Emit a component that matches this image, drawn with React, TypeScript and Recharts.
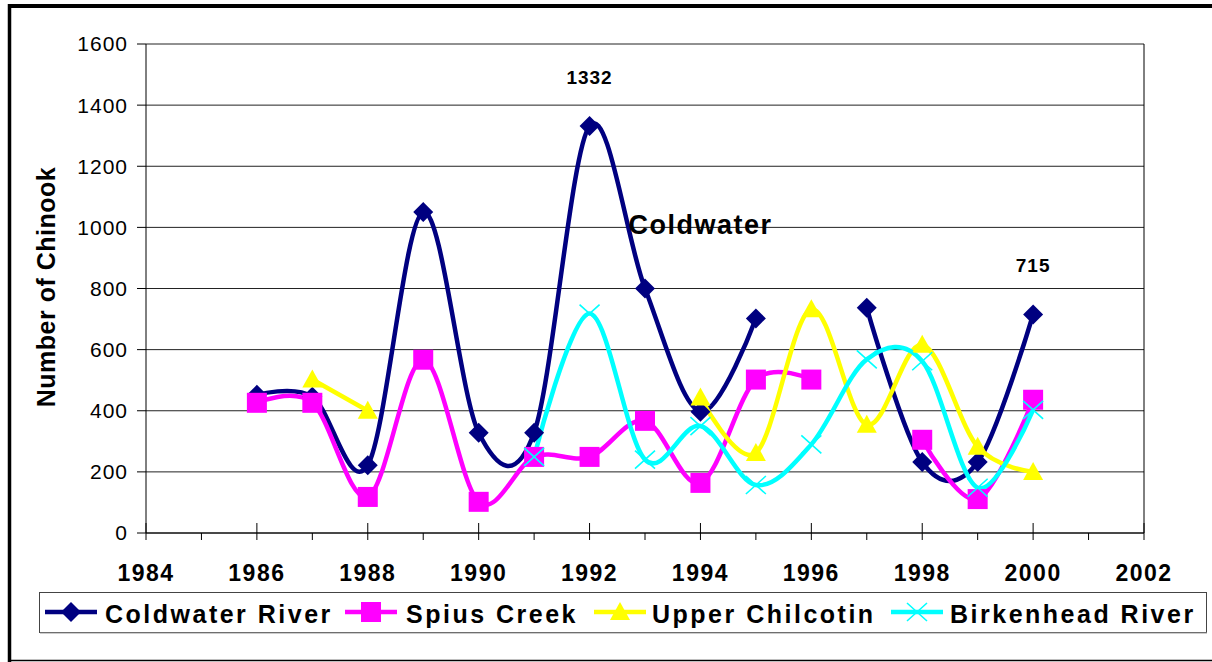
import React from 'react';
import {
  LineChart,
  Line,
  XAxis,
  YAxis,
  CartesianGrid,
  ReferenceLine,
  ReferenceDot,
  LabelList,
} from 'recharts';

// ---------- data ----------
const years = [1986, 1987, 1988, 1989, 1990, 1991, 1992, 1993, 1994, 1995, 1996, 1997, 1998, 1999, 2000];
const coldwater = [452, 446, 222, 1050, 328, 328, 1332, 800, 397, 702, null, 737, 232, 232, 715];
const spius = [426, 426, 118, 567, 102, 249, 249, 367, 164, 502, 502, null, 305, 111, 436];
const chilcotin = [null, 502, 400, null, null, null, null, null, 443, 262, 732, 354, 616, 282, 200];
const birkenhead = [null, null, null, null, null, 249, 718, 240, 350, 157, 290, 568, 562, 148, 403];

const seriesNames = ['Coldwater River', 'Spius Creek', 'Upper Chilcotin', 'Birkenhead River'];
const xTicks = [1984, 1985, 1986, 1987, 1988, 1989, 1990, 1991, 1992, 1993, 1994, 1995, 1996, 1997, 1998, 1999, 2000, 2001, 2002];
const yTicks = [0, 200, 400, 600, 800, 1000, 1200, 1400, 1600];
const labeledYears = [1992, 2000];
const annotationText = 'Coldwater';
const annotationPoint = { x: 1994, y: 977 };
const yTitle = 'Number of Chinook';

const data = years.map((year, i) => ({
  year,
  coldwater: coldwater[i],
  spius: spius[i],
  chilcotin: chilcotin[i],
  birkenhead: birkenhead[i],
}));

// ---------- styles ----------
const FONT = '"Liberation Sans", Arial, Helvetica, sans-serif';
const NAVY = '#000080';
const MAGENTA = '#FF00FF';
const YELLOW = '#FFFF00';
const CYAN = '#00FFFF';

// Excel-like smoothing: cardinal spline, tension 0 (control = P1 + (P2-P0)/6)
class CardinalCurve {
  _context: any;
  _k = 1 / 6;
  _line: number = NaN;
  _point = 0;
  _x0 = NaN; _x1 = NaN; _x2 = NaN; _y0 = NaN; _y1 = NaN; _y2 = NaN;
  constructor(context: any) {
    this._context = context;
  }
  areaStart() { this._line = 0; }
  areaEnd() { this._line = NaN; }
  lineStart() {
    this._x0 = this._x1 = this._x2 = this._y0 = this._y1 = this._y2 = NaN;
    this._point = 0;
  }
  lineEnd() {
    switch (this._point) {
      case 2: this._context.lineTo(this._x2, this._y2); break;
      case 3: this._bez(this._x1, this._y1); break;
    }
    if (this._line || (this._line !== 0 && this._point === 1)) this._context.closePath();
    this._line = 1 - this._line;
  }
  _bez(x: number, y: number) {
    this._context.bezierCurveTo(
      this._x1 + this._k * (this._x2 - this._x0),
      this._y1 + this._k * (this._y2 - this._y0),
      this._x2 + this._k * (this._x1 - x),
      this._y2 + this._k * (this._y1 - y),
      this._x2,
      this._y2
    );
  }
  point(x: number, y: number) {
    x = +x; y = +y;
    switch (this._point) {
      case 0:
        this._point = 1;
        if (this._line) this._context.lineTo(x, y); else this._context.moveTo(x, y);
        break;
      case 1:
        this._point = 2; this._x1 = x; this._y1 = y;
        break;
      case 2:
        this._point = 3;
        this._bez(x, y);
        break;
      default:
        this._bez(x, y);
        break;
    }
    this._x0 = this._x1; this._x1 = this._x2; this._x2 = x;
    this._y0 = this._y1; this._y1 = this._y2; this._y2 = y;
  }
}
const smoothCurve: any = (context: any) => new CardinalCurve(context);

// ---------- markers ----------
const diamond = (cx: number, cy: number, c: string) => (
  <path d={`M${cx},${cy - 10}L${cx + 10},${cy}L${cx},${cy + 10}L${cx - 10},${cy}Z`} fill={c} />
);
const square = (cx: number, cy: number, c: string) => (
  <rect x={cx - 10} y={cy - 10} width={20} height={20} fill={c} />
);
const triangle = (cx: number, cy: number, c: string) => (
  <path d={`M${cx},${cy - 10}L${cx + 10},${cy + 8}L${cx - 10},${cy + 8}Z`} fill={c} />
);
const cross = (cx: number, cy: number, c: string) => (
  <path
    d={`M${cx - 10},${cy - 9}L${cx + 10},${cy + 9}M${cx + 10},${cy - 9}L${cx - 10},${cy + 9}`}
    stroke={c}
    strokeWidth={1.6}
    fill="none"
  />
);

const makeDot = (shape: any, color: string) => (props: any) => {
  const { cx, cy, index } = props;
  if (cx == null || cy == null || Number.isNaN(cy)) return <g key={`dot-${index}`} />;
  return <g key={`dot-${index}`}>{shape(cx, cy, color)}</g>;
};

const seriesStyle = [
  { key: 'coldwater', color: NAVY, shape: diamond },
  { key: 'spius', color: MAGENTA, shape: square },
  { key: 'chilcotin', color: YELLOW, shape: triangle },
  { key: 'birkenhead', color: CYAN, shape: cross },
];

// ---------- axis ticks ----------
const XTick = (props: any) => {
  const { x, y, payload } = props;
  const v = payload.value;
  const major = v % 2 === 0;
  return (
    <g>
      <line x1={x} x2={x} y1={major ? y - 10 : y} y2={y + 7} stroke="#000" strokeWidth={1} />
      {major && (
        <text
          x={x}
          y={y + 48}
          textAnchor="middle"
          fontFamily={FONT}
          fontWeight="bold"
          fontSize={23}
          letterSpacing={1.5}
          fill="#000"
        >
          {v}
        </text>
      )}
    </g>
  );
};

const peakLabel = (props: any) => {
  const { x, y, index, value } = props;
  if (!labeledYears.includes(years[index]) || value == null) return null;
  return (
    <text
      key={`lbl-${index}`}
      x={x}
      y={y - 42}
      textAnchor="middle"
      fontFamily={FONT}
      fontWeight="bold"
      fontSize={19}
      letterSpacing={1}
      fill="#000"
    >
      {value}
    </text>
  );
};

const annotationLabel = (props: any) => {
  const vb = props.viewBox || {};
  const cx = (vb.x || 0) + (vb.width || 0) / 2;
  const cy = (vb.y || 0) + (vb.height || 0) / 2;
  return (
    <text
      x={cx}
      y={cy}
      textAnchor="middle"
      fontFamily={FONT}
      fontWeight="bold"
      fontSize={27}
      letterSpacing={1.5}
      fill="#000"
    >
      {annotationText}
    </text>
  );
};

// legend layout (pixel positions of each entry's icon start and text start)
const legendLayout = [
  { icon: 45, text: 105 },
  { icon: 345, text: 406 },
  { icon: 594, text: 652 },
  { icon: 891, text: 950 },
];

export default function App() {
  return (
    <div style={{ position: 'absolute', left: 0, top: 0, width: 1212, height: 662, background: '#fff', overflow: 'hidden' }}>
      <div style={{ position: 'absolute', left: 0, top: 0 }}>
        <LineChart
          width={1212}
          height={662}
          data={data}
          margin={{ top: 44, right: 68, bottom: 69, left: 86 }}
        >
          <CartesianGrid horizontal vertical={false} stroke="#222" strokeWidth={1} />
          <XAxis
            dataKey="year"
            type="number"
            domain={[1984, 2002]}
            ticks={xTicks}
            interval={0}
            height={60}
            axisLine={{ stroke: '#000', strokeWidth: 1 }}
            tickLine={false}
            tickSize={0}
            tickMargin={0}
            tick={<XTick />}
          />
          <YAxis
            type="number"
            domain={[0, 1600]}
            ticks={yTicks}
            interval={0}
            width={60}
            axisLine={{ stroke: '#000', strokeWidth: 1 }}
            tickLine={{ stroke: '#000', strokeWidth: 1 }}
            tickSize={9}
            tickMargin={9}
            tick={{ fontFamily: FONT, fontSize: 21, fill: '#000', letterSpacing: 1 }}
          />
          <ReferenceLine x={2002} stroke="#000" strokeWidth={1} />
          {seriesStyle.map((s, i) => (
            <Line
              key={s.key}
              dataKey={s.key}
              name={seriesNames[i]}
              type={smoothCurve}
              stroke={s.color}
              strokeWidth={4.5}
              dot={makeDot(s.shape, s.color)}
              activeDot={false}
              isAnimationActive={false}
            >
              {s.key === 'coldwater' && (
                <LabelList dataKey="coldwater" content={peakLabel} />
              )}
            </Line>
          ))}
          <ReferenceDot
            x={annotationPoint.x}
            y={annotationPoint.y}
            r={0}
            fill="none"
            stroke="none"
            label={{ content: annotationLabel }}
          />
        </LineChart>
      </div>
      <svg
        width={1212}
        height={662}
        style={{ position: 'absolute', left: 0, top: 0, pointerEvents: 'none' }}
      >
        {/* outer frame */}
        <line x1={9.5} x2={9.5} y1={4} y2={662} stroke="#000" strokeWidth={3.5} />
        <line x1={8} x2={1212} y1={6} y2={6} stroke="#000" strokeWidth={4} />
        <line x1={8} x2={1212} y1={660.5} y2={660.5} stroke="#000" strokeWidth={1.5} />
        {/* y axis title */}
        <text
          transform="translate(55,287) rotate(-90)"
          textAnchor="middle"
          fontFamily={FONT}
          fontWeight="bold"
          fontSize={25}
          letterSpacing={0.5}
          fill="#000"
        >
          {yTitle}
        </text>
        {/* legend */}
        <rect x={39.5} y={592.5} width={1167} height={40} fill="#fff" stroke="#444" strokeWidth={1} />
        <line x1={40} x2={1207} y1={633} y2={633} stroke="#999" strokeWidth={1} />
        {seriesStyle.map((s, i) => {
          const L = legendLayout[i];
          const cy = 612;
          return (
            <g key={s.key}>
              <line x1={L.icon} x2={L.icon + 52} y1={cy} y2={cy} stroke={s.color} strokeWidth={4.5} />
              {s.shape(L.icon + 26, cy, s.color)}
              <text
                x={L.text}
                y={623}
                fontFamily={FONT}
                fontWeight="bold"
                fontSize={25}
                letterSpacing={2.5}
                fill="#000"
              >
                {seriesNames[i]}
              </text>
            </g>
          );
        })}
      </svg>
    </div>
  );
}
